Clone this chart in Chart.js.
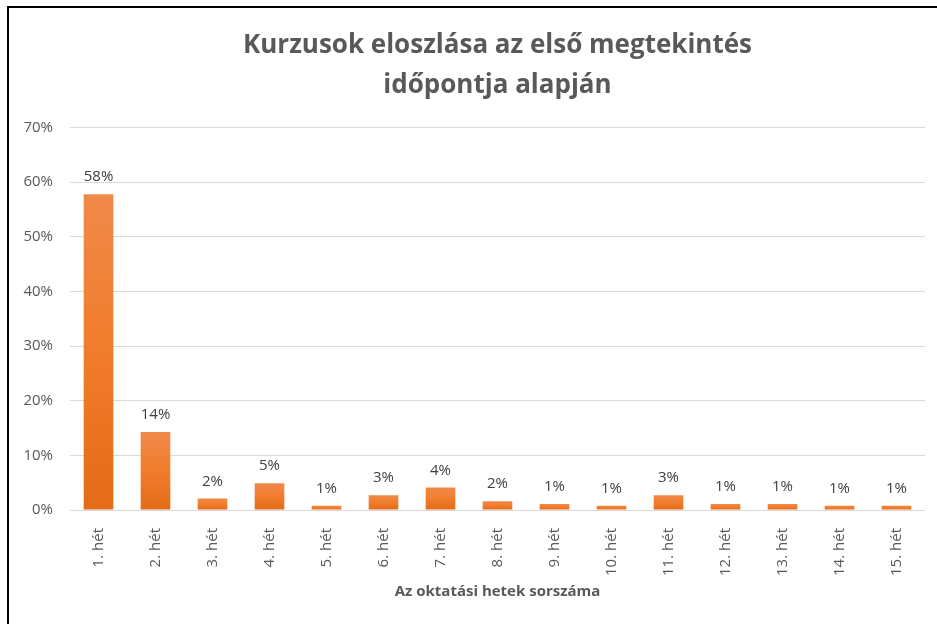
<!DOCTYPE html>
<html>
<head>
<meta charset="utf-8">
<script src="https://cdn.jsdelivr.net/npm/chart.js@4/dist/chart.umd.min.js"></script>
<style>
  html, body { margin: 0; padding: 0; background: #fff; }
  #wrap { position: relative; width: 937px; height: 624px; overflow: hidden; }
  #frame { position: absolute; left: 7px; top: 6px; right: -10px; bottom: -10px;
           border-left: 2px solid #000; border-top: 2px solid #000; pointer-events: none; }
  canvas { position: absolute; left: 0; top: 0; }
</style>
</head>
<body>
<div id="wrap">
  <canvas id="c" width="937" height="624"></canvas>
  <div id="frame"></div>
</div>
<script>
const categories = ["1. hét","2. hét","3. hét","4. hét","5. hét","6. hét","7. hét","8. hét","9. hét","10. hét","11. hét","12. hét","13. hét","14. hét","15. hét"];
const shares = [57.8, 14.3, 2.1, 4.9, 0.8, 2.7, 4.1, 1.6, 1.1, 0.8, 2.7, 1.1, 1.1, 0.8, 0.8];
const titleLines = ["Kurzusok eloszlása az első megtekintés", "időpontja alapján"];
const xTitle = "Az oktatási hetek sorszáma";
const yTicks = [0, 10, 20, 30, 40, 50, 60, 70];

const FONT = "'Open Sans', 'Noto Sans', sans-serif";
const TEXT = "#595959";

const labelPlugin = {
  id: 'barLabels',
  afterDatasetsDraw(chart) {
    const ctx = chart.ctx;
    const meta = chart.getDatasetMeta(0);
    ctx.save();
    ctx.font = "15px " + FONT;
    ctx.fillStyle = "#404040";
    ctx.textAlign = "center";
    ctx.textBaseline = "alphabetic";
    meta.data.forEach((bar, i) => {
      const v = chart.data.datasets[0].data[i];
      ctx.fillText(Math.round(v) + "%", bar.x, bar.y - 13);
    });
    ctx.restore();
  }
};

function barFill(context) {
  const chart = context.chart;
  if (!chart.chartArea || context.dataIndex === undefined) return "#F07E2D";
  const ys = chart.scales.y;
  const v = context.dataset.data[context.dataIndex];
  const top = ys.getPixelForValue(v);
  const base = ys.getPixelForValue(0);
  if (!(base > top)) return "#F07E2D";
  const g = chart.ctx.createLinearGradient(0, top, 0, base);
  g.addColorStop(0, "#F0894A");
  g.addColorStop(0.45, "#F17E2E");
  g.addColorStop(1, "#E46B17");
  return g;
}

new Chart(document.getElementById('c'), {
  type: 'bar',
  data: {
    labels: categories,
    datasets: [{
      data: shares,
      backgroundColor: barFill,
      borderWidth: 0,
      barPercentage: 0.52,
      categoryPercentage: 1.0
    }]
  },
  options: {
    responsive: false,
    animation: false,
    devicePixelRatio: 1,
    layout: { padding: { left: 10, right: 12, top: 0, bottom: 0 } },
    plugins: {
      legend: { display: false },
      tooltip: { enabled: false },
      title: {
        display: true,
        text: titleLines,
        fullSize: false,
        color: TEXT,
        font: { family: FONT, size: 26, weight: 'bold', lineHeight: 1.55 },
        padding: { top: 25, bottom: 22 }
      }
    },
    scales: {
      x: {
        grid: { display: false },
        border: { display: false },
        ticks: {
          color: TEXT,
          font: { family: FONT, size: 15 },
          minRotation: 90, maxRotation: 90,
          padding: 10,
          autoSkip: false
        },
        title: {
          display: true,
          text: xTitle,
          color: TEXT,
          font: { family: FONT, size: 15, weight: 'bold', lineHeight: 1.2 },
          padding: { top: 4, bottom: 23 }
        },
        afterFit(s) { s.height = 114; }
      },
      y: {
        min: 0, max: 70,
        border: { display: false },
        grid: { color: "#D9D9D9", lineWidth: 1, drawTicks: false },
        afterBuildTicks(s) { s.ticks = yTicks.map(v => ({ value: v })); },
        ticks: {
          color: TEXT,
          font: { family: FONT, size: 15 },
          padding: 17,
          callback: v => v + "%"
        },
        afterFit(s) { s.width = 60; }
      }
    }
  },
  plugins: [labelPlugin]
});
</script>
</body>
</html>
